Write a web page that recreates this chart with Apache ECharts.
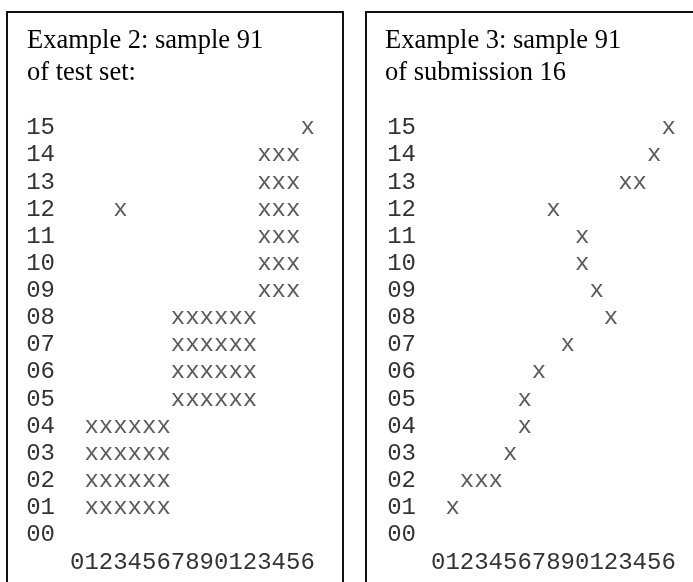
<!DOCTYPE html>
<html>
<head>
<meta charset="utf-8">
<script src="https://cdn.jsdelivr.net/npm/echarts@6/dist/echarts.min.js"></script>
<style>
html,body{margin:0;padding:0;background:#fff;}
#chart{width:693px;height:582px;}
</style>
</head>
<body>
<div id="chart"></div>
<script>
// Column tick labels (17 columns) and row tick labels (16 rows)
var colLabels = ['0','1','2','3','4','5','6','7','8','9','0','1','2','3','4','5','6'];
var rowLabels = ['00','01','02','03','04','05','06','07','08','09','10','11','12','13','14','15'];

// Left panel: sample 91 of test set — columns marked with x, per row 00..15
var testSetRows = [
  [],
  [1,2,3,4,5,6],
  [1,2,3,4,5,6],
  [1,2,3,4,5,6],
  [1,2,3,4,5,6],
  [7,8,9,10,11,12],
  [7,8,9,10,11,12],
  [7,8,9,10,11,12],
  [7,8,9,10,11,12],
  [13,14,15],
  [13,14,15],
  [13,14,15],
  [3,13,14,15],
  [13,14,15],
  [13,14,15],
  [16]
];

// Right panel: sample 91 of submission 16
var submissionRows = [
  [],
  [1],
  [2,3,4],
  [5],
  [6],
  [6],
  [7],
  [9],
  [12],
  [11],
  [10],
  [10],
  [8],
  [13,14],
  [15],
  [16]
];

var leftTitle = 'Example 2: sample 91\nof test set:';
var rightTitle = 'Example 3: sample 91\nof submission 16';

function toPoints(rows) {
  var pts = [];
  rows.forEach(function (cols, r) {
    cols.forEach(function (c) { pts.push([c, r]); });
  });
  return pts;
}

var mono = 'Liberation Mono';
var monoColor = '#333';
var cell = 14.4;
var gridTop = 114.4, gridHeight = 434;

function xAxis(idx) {
  return {
    gridIndex: idx, type: 'category', data: colLabels, boundaryGap: true,
    axisLine: {show: false}, axisTick: {show: false}, splitLine: {show: false},
    axisLabel: {interval: 0, margin: 2, fontFamily: mono, fontSize: 24, color: monoColor}
  };
}
function yAxis(idx) {
  return {
    gridIndex: idx, type: 'category', data: rowLabels, boundaryGap: true,
    axisLine: {show: false}, axisTick: {show: false}, splitLine: {show: false},
    axisLabel: {interval: 0, margin: 15, fontFamily: mono, fontSize: 24, color: monoColor}
  };
}
function series(idx, rows) {
  return {
    type: 'scatter', xAxisIndex: idx, yAxisIndex: idx,
    data: toPoints(rows),
    symbolSize: 1,
    itemStyle: {color: 'rgba(0,0,0,0)'},
    label: {show: true, position: 'inside', formatter: 'x', fontFamily: mono, fontSize: 24, color: monoColor},
    silent: true, animation: false
  };
}

var titleStyle = {fontFamily: 'Liberation Serif', fontSize: 26.5, fontWeight: 'normal', lineHeight: 32, color: '#000'};

var chart = echarts.init(document.getElementById('chart'), null, {renderer: 'canvas'});
chart.setOption({
  animation: false,
  backgroundColor: '#fff',
  title: [
    {text: leftTitle, left: 27, top: 25, padding: 0, textStyle: titleStyle},
    {text: rightTitle, left: 385, top: 25, padding: 0, textStyle: titleStyle}
  ],
  grid: [
    {left: 70, top: gridTop, width: cell * 17, height: gridHeight},
    {left: 431, top: gridTop, width: cell * 17, height: gridHeight}
  ],
  xAxis: [xAxis(0), xAxis(1)],
  yAxis: [yAxis(0), yAxis(1)],
  series: [series(0, testSetRows), series(1, submissionRows)],
  graphic: [
    {type: 'rect', shape: {x: 7, y: 12, width: 336, height: 620}, style: {fill: 'none', stroke: '#111', lineWidth: 2}, silent: true},
    {type: 'rect', shape: {x: 366, y: 12, width: 400, height: 620}, style: {fill: 'none', stroke: '#111', lineWidth: 2}, silent: true}
  ]
});
</script>
</body>
</html>
